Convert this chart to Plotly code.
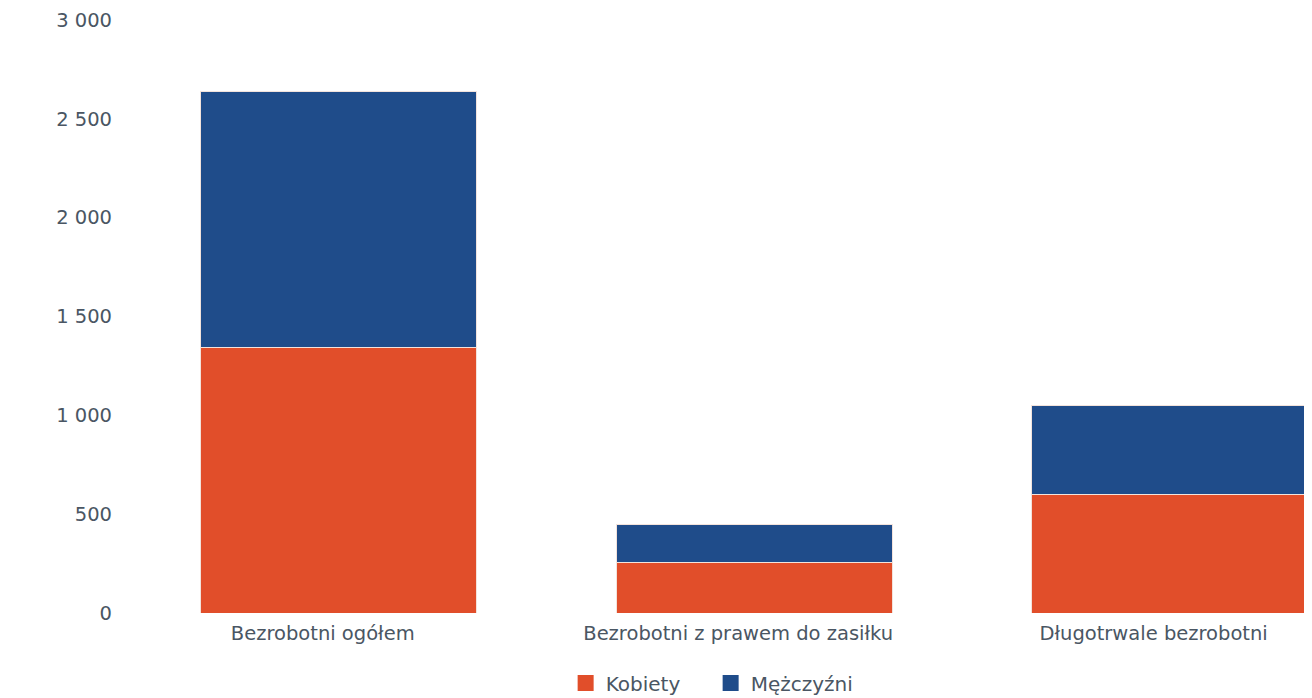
import plotly.graph_objects as go

categories = ["Bezrobotni ogółem", "Bezrobotni z prawem do zasiłku", "Długotrwale bezrobotni"]
kobiety = [1341, 258, 602]
mezczyzni = [1295, 192, 450]
tick_vals = [0, 500, 1000, 1500, 2000, 2500, 3000]
tick_text = ["0", "500", "1 000", "1 500", "2 000", "2 500", "3 000"]
series_names = ["Kobiety", "Mężczyźni"]
series_colors = ["#e14e2a", "#1f4c8a"]

font_family = "DejaVu Sans"
text_color = "#4a5663"

fig = go.Figure()
for name, vals, col in zip(series_names, [kobiety, mezczyzni], series_colors):
    fig.add_trace(go.Bar(
        name=name, x=categories, y=vals, showlegend=False,
        marker=dict(color=col, line=dict(color="#f3e3dc", width=1)),
        width=0.664,
    ))
# legend entries with large square swatches
for name, col in zip(series_names, series_colors):
    fig.add_trace(go.Scatter(
        name=name, x=[None], y=[None], mode="markers",
        marker=dict(symbol="square", size=18, color=col),
        showlegend=True,
    ))

fig.update_layout(
    barmode="stack",
    width=1312, height=698,
    margin=dict(l=123, r=0, t=12, b=93),
    paper_bgcolor="white", plot_bgcolor="white",
    font=dict(family=font_family, size=20, color=text_color),
    showlegend=True,
    legend=dict(orientation="h", x=0.4875, xanchor="center", y=-0.085, yanchor="top",
                font=dict(size=20, color=text_color), itemsizing="trace",
                traceorder="normal", entrywidth=100),
    xaxis=dict(range=[-0.5, 2.362], showgrid=False, zeroline=False, showline=False,
               ticks="", tickfont=dict(size=19.5), ticklabelshift=-16,
               ticklabelstandoff=6),
    yaxis=dict(range=[0, 3000], tickvals=tick_vals, ticktext=tick_text,
               showgrid=False, zeroline=False, showline=False, ticks="",
               ticklabelstandoff=18, tickfont=dict(size=19.5)),
)

fig.write_html("out.html")
